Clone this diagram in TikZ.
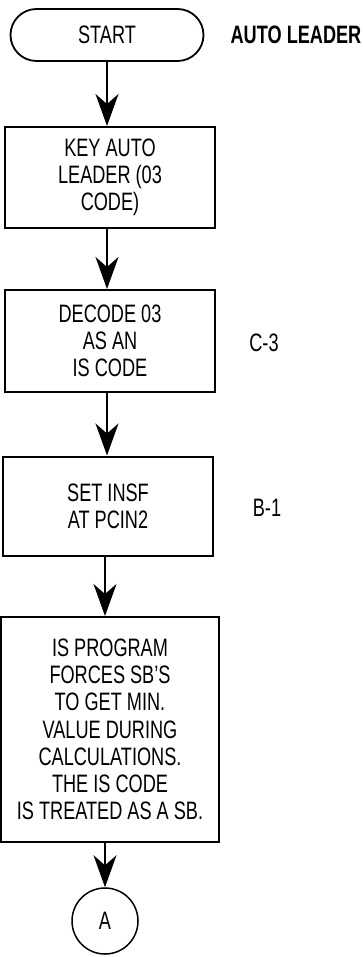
\documentclass[tikz,border=0pt]{standalone}
\usepackage{fontspec}
\setmainfont{Liberation Sans}[FakeStretch=0.72]
\usetikzlibrary{shapes.misc,arrows.meta}
\begin{document}
\begin{tikzpicture}[x=0.5pt,y=-0.5pt,
  every node/.style={font=\fontsize{12.6}{13.6}\selectfont,align=center,inner sep=0pt},
  procbox/.style={draw,line width=1pt,minimum width=105pt},
  flow/.style={line width=0.75pt,-{Stealth[length=16pt,width=11.5pt,inset=5pt]}}]
\useasboundingbox (0,0) rectangle (363,957);
\node[draw,line width=0.9pt,rounded rectangle,minimum width=96.5pt,minimum height=26pt] (start) at (107,35) {START};
\node[font=\fontsize{12.6}{13.6}\selectfont\bfseries] (title) at (296,35) {AUTO LEADER};
\node[procbox,minimum height=50.5pt] (key) at (110,177.5) {KEY AUTO\\LEADER (03\\CODE)};
\node[procbox,minimum height=51pt] (decode) at (110,341) {DECODE 03\\AS AN\\IS CODE};
\node (cthree) at (264,343) {C-3};
\node[procbox,minimum height=49.5pt] (setinsf) at (108,506) {SET INSF\\AT PCIN2};
\node (bone) at (267,508) {B-1};
\node[procbox,minimum width=109pt,minimum height=112.5pt] (force) at (110,729.5) {IS PROGRAM\\FORCES SB'S\\TO GET MIN.\\VALUE DURING\\CALCULATIONS.\\THE IS CODE\\IS TREATED AS A SB.};
\node[draw,circle,line width=0.75pt,minimum size=33pt] (conA) at (105,921) {A};
% connectors
\draw[flow] (start.south) -- (start.south |- key.north);
\draw[flow] (key.south -| start) -- (start |- decode.north);
\draw[flow] (decode.south -| start) -- (start |- setinsf.north);
\draw[flow] (setinsf.south -| conA) -- (conA |- force.north);
\draw[flow] (force.south -| conA) -- (conA.north);
\end{tikzpicture}
\end{document}
